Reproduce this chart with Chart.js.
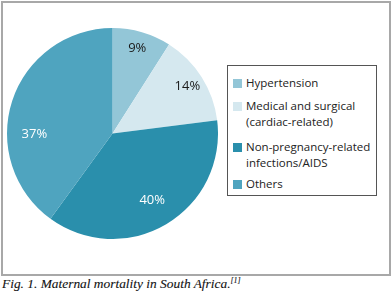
<!DOCTYPE html>
<html>
<head>
<meta charset="utf-8">
<script src="https://cdn.jsdelivr.net/npm/chart.js@4"></script>
<style>
  body { margin:0; background:#fff; width:391px; height:297px; position:relative; overflow:hidden; font-family:"Open Sans", sans-serif; }
  #frame { position:absolute; left:1px; top:1px; width:386px; height:271px; border:2px solid #a8a8a8; }
  #pieBox { position:absolute; left:7px; top:28px; width:211px; height:211px; }
  #legend { position:absolute; left:227px; top:65px; width:148px; height:129px; border:1px solid #555; }
  .item { position:absolute; left:18px; font-size:11.5px; line-height:16px; color:#222; }
  .sw { position:absolute; left:-13px; top:4px; width:9px; height:9px; }
  #caption { position:absolute; left:2px; top:276px; font-family:"Liberation Serif", serif; font-style:italic; font-size:13.4px; color:#111; white-space:nowrap; -webkit-text-stroke:0.1px #111; }
  #caption sup { font-size:8px; vertical-align:5px; }
</style>
</head>
<body>
<div id="frame"></div>
<div id="pieBox"><canvas id="pie"></canvas></div>
<div id="legend"></div>
<div id="caption">Fig. 1. Maternal mortality in South Africa.<sup>[1]</sup></div>
<script>
  // categories and values as printed in the figure
  var causes=['Hypertension','Medical and surgical (cardiac-related)','Non-pregnancy-related infections/AIDS','Others']
  var legendLines=[['Hypertension'],['Medical and surgical','(cardiac-related)'],['Non-pregnancy-related','infections/AIDS'],['Others']]
  var printedPct=[9,14,40,37]
  // slice sizes as drawn in the picture (the drawn wedges of the last two look swapped vs. the printed numbers)
  var sliceShare=[9,14,37,40]
  var colours=['#93c6d7','#d5e8ef','#2a8fac','#4fa4bf']
  var labelColours=['#1a1a1a','#1a1a1a','#ffffff','#ffffff']

  // legend (html)
  var legendTops=[9,32,73,110]
  var legend=document.getElementById('legend')
  causes.forEach(function(c,i){
    var d=document.createElement('div')
    d.className='item'
    d.style.top=legendTops[i]+'px'
    d.innerHTML='<span class="sw" style="background:'+colours[i]+'"></span>'+legendLines[i].join('<br>')
    legend.appendChild(d)
  })

  const sliceText={
    id:'sliceText',
    afterDatasetsDraw(chart){
      const {ctx}=chart;
      const arcs=chart.getDatasetMeta(0).data;
      ctx.save();
      ctx.font='13px "Open Sans"';
      ctx.textAlign='center';
      ctx.textBaseline='middle';
      arcs.forEach(function(arc,i){
        const p=arc.getProps(['x','y','startAngle','endAngle','outerRadius'],true);
        let mid=(p.startAngle+p.endAngle)/2;
        if(i==3) mid-=0.32;
        const r=p.outerRadius*(i<2?0.84:0.74);
        ctx.fillStyle=labelColours[i];
        ctx.fillText(printedPct[i]+'%',p.x+Math.cos(mid)*r,p.y+Math.sin(mid)*r);
      });
      ctx.restore();
    }
  }

  const pieChart=new Chart(document.getElementById('pie'),{
    type:'pie',
    data:{
      labels:causes,
      datasets:[{data:sliceShare,backgroundColor:colours,borderWidth:0}]
    },
    options:{
      responsive:true,
      maintainAspectRatio:false,
      animation:false,
      layout:{padding:0},
      plugins:{legend:{display:false},tooltip:{enabled:false}}
    },
    plugins:[sliceText]
  })
</script>
</body>
</html>
